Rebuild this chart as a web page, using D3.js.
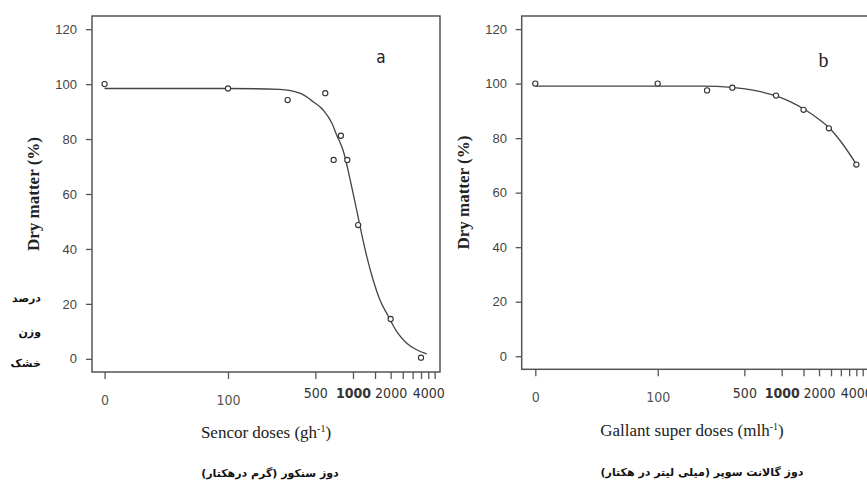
<!DOCTYPE html>
<html>
<head>
<meta charset="utf-8">
<title>Dry matter dose response</title>
<script src="https://d3js.org/d3.v7.min.js"></script>
<style>
  body { margin: 0; background: #fff; }
</style>
</head>
<body>
<div id="chart"></div>
<script>
// observed points, panel a (Sencor) and panel b (Gallant super)
const sencorDose = [0, 100, 300, 600, 700, 800, 900, 1100, 2000, 3500];
const sencorDry  = [100, 98.4, 94.2, 96.7, 72.4, 81.2, 72.4, 48.7, 14.5, 0.4];
// fitted curve
const sencorFitDose = [0, 100, 260, 380, 480, 580, 680, 740, 840, 950, 1070, 1140, 1290, 1450, 1640, 1920, 2240, 2690, 3230, 3890];
const sencorFitDry  = [98.4, 98.4, 98.1, 96.6, 93.6, 90.5, 85.7, 81.5, 75.4, 65.1, 54.2, 48.1, 37.2, 28.7, 21.5, 15.4, 9.9, 5.7, 3.3, 1.8];

const gallantDose = [0, 100, 250, 400, 900, 1500, 2400, 4000];
const gallantDry  = [100, 100, 97.5, 98.5, 95.6, 90.4, 83.6, 70.3];
const gallantFitDose = [0, 100, 180, 230, 395, 630, 900, 1170, 1520, 1920, 2400, 3050, 4000];
const gallantFitDry  = [99.1, 99.1, 99.1, 99.1, 98.6, 97.3, 95.5, 93.4, 90.6, 87.5, 83.9, 78.3, 70.4];

// axes
const xTickDoses  = [0, 100, 500, 1000, 1500, 2000, 2500, 3000, 3500, 4000, 4500];
const xTickLabels = ["0", "100", "500", "1000", "", "2000", "", "", "", "4000", ""];
const yTicks = [0, 20, 40, 60, 80, 100, 120];

const W = 867, H = 483;
const zeroAt = 10.3; // where dose 0 sits on the log axis

let svg = d3.select("#chart").append("svg")
    .attr("width", W).attr("height", H);

function plotPanel(p) {
    let x = d3.scaleLog().domain([p.xmin, 4966]).range([p.left, p.right]);
    let y = d3.scaleLinear().domain([-4.8, 124.8]).range([p.bottom, p.top]);
    let px = d => x(d === 0 ? zeroAt : d);

    let g = svg.append("g");

    // y axis
    let yAxis = d3.axisLeft(y).tickValues(yTicks).tickSize(6).tickPadding(p.ypad);
    let ya = g.append("g").attr("transform", "translate(" + p.left + ",0)").call(yAxis);
    ya.select(".domain").remove();
    ya.selectAll("line").attr("stroke", "#555").attr("stroke-width", 1.3);
    ya.selectAll("text")
        .attr("font-family", "'Liberation Sans', Arial, sans-serif")
        .attr("font-size", "13px")
        .attr("fill", "#444");

    // x axis
    let xAxis = d3.axisBottom(x)
        .tickValues(xTickDoses.map(d => d === 0 ? zeroAt : d))
        .tickSize(7)
        .tickFormat((d, i) => xTickLabels[i]);
    let xa = g.append("g").attr("transform", "translate(0," + p.bottom + ")").call(xAxis);
    xa.select(".domain").remove();
    xa.selectAll("line").attr("stroke", "#555").attr("stroke-width", 1.3);
    xa.selectAll("text")
        .attr("y", (d, i) => (i < 2 ? p.lab1 : p.lab2) - p.bottom)
        .attr("dy", "0.35em")
        .attr("font-family", "'Liberation Sans Narrow', 'DejaVu Sans Condensed', sans-serif")
        .attr("font-size", "14px")
        .attr("font-weight", (d, i) => p.bold.includes(xTickLabels[i]) ? "bold" : "normal")
        .attr("fill", (d, i) => i < 2 ? "#555" : "#333");

    // box
    g.append("rect")
        .attr("x", p.left).attr("y", p.top)
        .attr("width", p.right - p.left).attr("height", p.bottom - p.top)
        .attr("fill", "none").attr("stroke", "#555").attr("stroke-width", 1.5);

    // fitted curve
    let line = d3.line()
        .x(d => px(d[0]))
        .y(d => y(d[1]))
        .curve(d3.curveMonotoneX);
    g.append("path")
        .datum(p.fitDose.map((d, i) => [d, p.fitDry[i]]))
        .attr("d", line)
        .attr("fill", "none")
        .attr("stroke", "#444")
        .attr("stroke-width", 1.3);

    // points
    g.selectAll("circle")
        .data(p.dose.map((d, i) => [d, p.dry[i]]))
        .enter()
        .append("circle")
        .attr("cx", d => px(d[0]))
        .attr("cy", d => y(d[1]))
        .attr("r", 2.6)
        .attr("fill", "white")
        .attr("stroke", "#333")
        .attr("stroke-width", 1.1);

    // panel letter
    g.append("text")
        .attr("x", p.letterX).attr("y", p.letterY)
        .attr("text-anchor", "middle")
        .attr("font-family", p.letterFont)
        .attr("font-size", p.letterSize)
        .attr("fill", "#222")
        .text(p.letter);

    // y title
    g.append("text")
        .attr("transform", "translate(" + p.ytitleX + "," + ((p.top + p.bottom) / 2) + ") rotate(-90)")
        .attr("text-anchor", "middle")
        .attr("font-family", "'Liberation Serif', 'Times New Roman', serif")
        .attr("font-weight", "bold")
        .attr("font-size", "17px")
        .attr("fill", "#222")
        .text("Dry matter (%)");

    // x title with superscript
    let xt = g.append("text")
        .attr("x", p.xtitleX).attr("y", p.xtitleY)
        .attr("text-anchor", "middle")
        .attr("font-family", "'Liberation Serif', 'Times New Roman', serif")
        .attr("font-size", "17px")
        .attr("fill", "#222");
    xt.append("tspan").text(p.xtitle);
    xt.append("tspan").attr("dy", -6).attr("font-size", "10px").text("-1");
    xt.append("tspan").attr("dy", 6).text(")");

    // persian subtitle
    g.append("text")
        .attr("x", p.faX).attr("y", p.faY)
        .attr("text-anchor", "middle")
        .attr("direction", "rtl")
        .attr("font-family", "'DejaVu Sans', sans-serif")
        .attr("font-weight", "bold")
        .attr("font-size", "11px")
        .attr("fill", "#111")
        .text(p.faTitle);
}

plotPanel({
    left: 92, right: 440, top: 16, bottom: 372, xmin: 8.17, ypad: 9,
    lab1: 400, lab2: 393.5, bold: ["1000"],
    dose: sencorDose, dry: sencorDry, fitDose: sencorFitDose, fitDry: sencorFitDry,
    letter: "a", letterX: 381, letterY: 62.5, letterSize: "17px",
    letterFont: "'Liberation Sans Narrow', 'DejaVu Sans Condensed', sans-serif",
    ytitleX: 39, xtitle: "Sencor doses (gh", xtitleX: 266, xtitleY: 438,
    faTitle: "دوز سنکور (گرم درهکتار)", faX: 270, faY: 477
});

plotPanel({
    left: 521.7, right: 868, top: 16, bottom: 369.3, xmin: 8.0, ypad: 8.7,
    lab1: 397.5, lab2: 393.5, bold: ["1000"],
    dose: gallantDose, dry: gallantDry, fitDose: gallantFitDose, fitDry: gallantFitDry,
    letter: "b", letterX: 823.5, letterY: 66.5, letterSize: "20px",
    letterFont: "'Liberation Serif', 'Times New Roman', serif",
    ytitleX: 469, xtitle: "Gallant super doses (mlh", xtitleX: 692, xtitleY: 436,
    faTitle: "دوز گالانت سوپر (میلی لیتر در هکتار)", faX: 702, faY: 476
});

// persian y-axis note beside panel a
const faSide = ["درصد", "وزن", "خشک"];
const faSideY = [302, 336, 367];
svg.selectAll(".faside")
    .data(faSide)
    .enter()
    .append("text")
    .attr("class", "faside")
    .attr("x", 41)
    .attr("y", (d, i) => faSideY[i])
    .attr("text-anchor", "start")
    .attr("direction", "rtl")
    .attr("font-family", "'DejaVu Sans', sans-serif")
    .attr("font-weight", "bold")
    .attr("font-size", "11px")
    .attr("fill", "#111")
    .text(d => d);
</script>
</body>
</html>
